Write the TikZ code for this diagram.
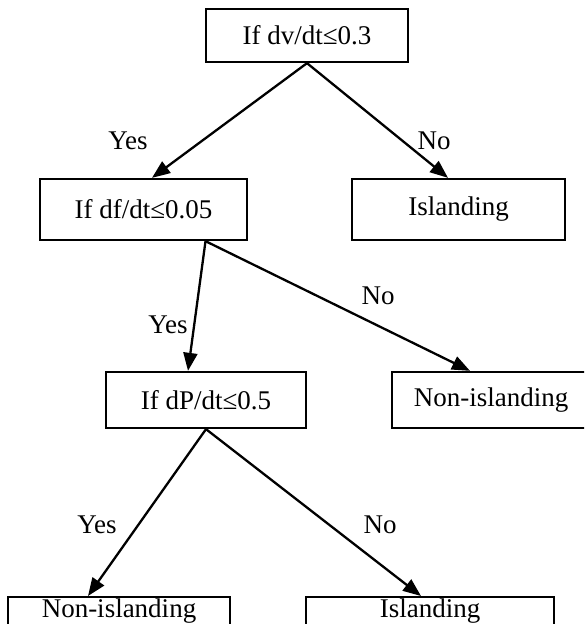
\documentclass[tikz,border=0pt]{standalone}
\usepackage{fontspec}
\setmainfont{Liberation Serif}
\usetikzlibrary{arrows.meta}
\begin{document}
\begin{tikzpicture}[x=0.5pt,y=-0.5pt,line width=1.15pt,
  every node/.style={font=\fontsize{13.5}{15}\selectfont},
  decbox/.style={draw,line width=1.15pt,inner sep=0pt},
  leafbox/.style={draw,line width=1.15pt,inner sep=0pt,anchor=north,text height=10pt,text depth=22pt},
  flow/.style={-{Triangle[length=9pt,width=7pt]}}]
\useasboundingbox (0,0) rectangle (584,624);
\clip (0,0) rectangle (584,624);
\node[decbox,minimum width=101pt,minimum height=26.5pt] (dv) at (307,35.5) {If dv/dt≤0.3};
\node[decbox,minimum width=103.5pt,minimum height=30.5pt] (df) at (143.5,209.5) {If df/dt≤0.05};
\node[decbox,minimum width=106.5pt,minimum height=30.5pt] (isl1) at (458.5,209.5) {Islanding};
\node[decbox,minimum width=100pt,minimum height=28pt] (dp) at (206,400) {If dP/dt≤0.5};
\node[decbox,minimum width=99pt,minimum height=28pt] (non1) at (491,400) {Non-islanding};
\node[leafbox,minimum width=111pt] (non2) at (119,596) {Non-islanding};
\node[leafbox,minimum width=124pt] (isl2) at (430,596) {Islanding};
\draw[flow] (dv.south) -- ([xshift=-77.5pt]dv.south |- df.north);
\draw[flow] (dv.south) -- ([xshift=70.5pt]dv.south |- isl1.north);
\draw[flow] ([xshift=31pt]df.south) -- ([xshift=-9pt]dp.north);
\draw[flow] ([xshift=31pt]df.south) -- ([xshift=-10.5pt]non1.north);
\draw[flow] (dp.south) -- ([xshift=-15.5pt]non2.north);
\draw[flow] (dp.south) -- ([xshift=-4.5pt]isl2.north);
\node (yes1) at (128,141) {Yes};
\node (no1) at (434,141) {No};
\node (yes2) at (168,325) {Yes};
\node (no2) at (378,296) {No};
\node (yes3) at (97,525) {Yes};
\node (no3) at (380,525) {No};
\end{tikzpicture}
\end{document}
